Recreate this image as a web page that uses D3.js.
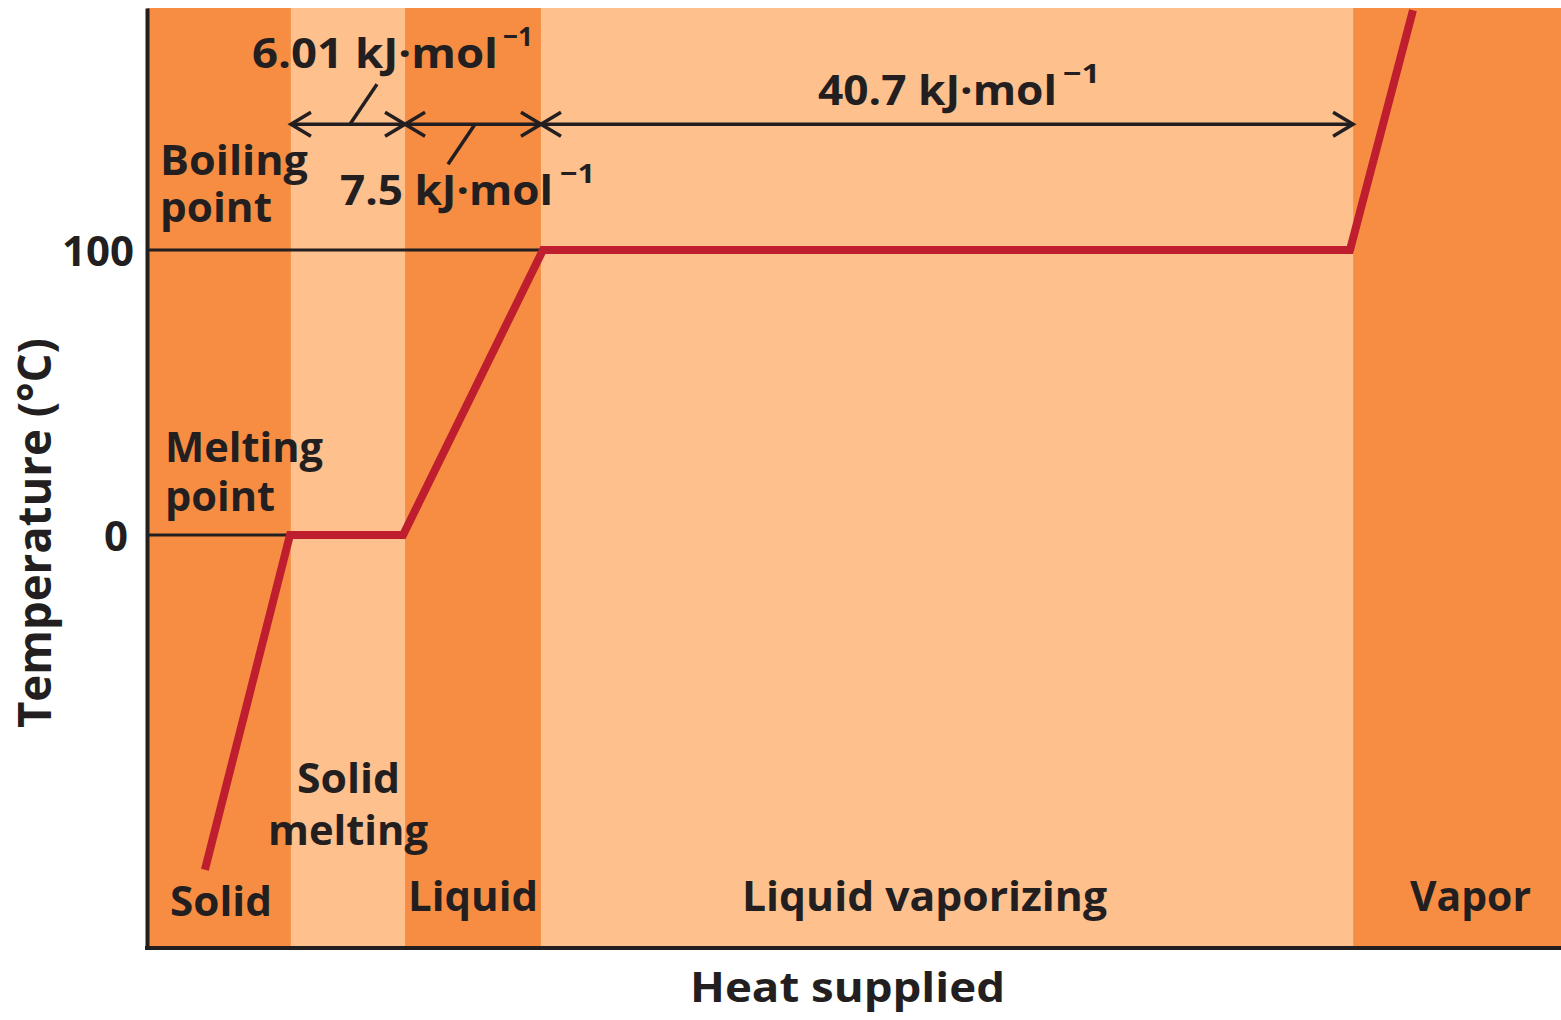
<!DOCTYPE html>
<html>
<head>
<meta charset="utf-8">
<script src="https://cdn.jsdelivr.net/npm/d3@7"></script>
<style>
  html, body { margin: 0; padding: 0; background: #fff; }
  svg text { font-family: "Open Sans", "Noto Sans", sans-serif; font-weight: 700; fill: #231f20; }
</style>
</head>
<body>
<div id="graph"></div>
<script>
// phases along the heat axis (edges are heat supplied, kJ·mol-1 scale)
const phaseNames = ["Solid", "Solid melting", "Liquid", "Liquid vaporizing", "Vapor"];
const phaseEdges = [0, 7.38, 13.23, 20.2, 61.84, 72.5];

// heating curve
const heatValues = [2.97, 7.33, 13.13, 20.3, 61.68, 64.91];
const tempValues = [-117.5, 0, 0, 100, 100, 184.2];

// y axis
const tempTicks = [0, 100];
const tickLabels = ["0", "100"];
const tempNames = ["Melting point", "Boiling point"];

// latent heats, one per phase change span
const latentLabels = ["6.01 kJ·mol", "7.5 kJ·mol", "40.7 kJ·mol"];
const latentSpans = [[1, 2], [2, 3], [3, 4]];
const arrowTemp = 144.2;

let dark = "#f68d42", light = "#fec08d", ink = "#231f20", red = "#be1e2d";

let width = 1561, height = 1020;
let margin = {top: 8, right: 0, bottom: 72, left: 147};

let x = d3.scaleLinear().domain([0, 72.5]).range([margin.left, width - margin.right]);
let y = d3.scaleLinear().domain([-145, 185]).range([height - margin.bottom, margin.top]);

let svg = d3.select("div#graph").append("svg")
  .attr("width", width)
  .attr("height", height);

// phase bands
svg.append("g").selectAll("rect")
  .data(phaseNames)
  .join("rect")
  .attr("x", (d, i) => x(phaseEdges[i]))
  .attr("width", (d, i) => x(phaseEdges[i + 1]) - x(phaseEdges[i]))
  .attr("y", y(185))
  .attr("height", y(-145) - y(185))
  .attr("fill", (d, i) => i % 2 ? light : dark);

let points = heatValues.map((h, i) => ({heat: h, temp: tempValues[i]}));

// melting / boiling reference lines, running to the curve
svg.append("g").selectAll("line")
  .data(tempTicks)
  .join("line")
  .attr("x1", x(0))
  .attr("x2", t => x(points.find(p => p.temp >= t && p.temp === t).heat) + (t === 100 ? 0 : -1))
  .attr("y1", t => y(t))
  .attr("y2", t => y(t))
  .attr("stroke", ink)
  .attr("stroke-width", 3);

let line = d3.line()
  .x(d => x(d.heat))
  .y(d => y(d.temp));

svg.append("path")
  .datum(points)
  .attr("d", line)
  .attr("fill", "none")
  .attr("stroke", red)
  .attr("stroke-width", 8)
  .attr("stroke-linejoin", "miter");

// axes
let yAxis = d3.axisLeft(y).tickValues(tempTicks).tickFormat((d, i) => tickLabels[i])
  .tickSize(0).tickSizeOuter(0).tickPadding(13);
let xAxis = d3.axisBottom(x).tickValues([]).tickSizeOuter(0);

let gy = svg.append("g")
  .attr("transform", "translate(" + margin.left + ",0)")
  .call(yAxis);
gy.select(".domain").attr("stroke", ink).attr("stroke-width", 4);
gy.selectAll(".tick text")
  .attr("font-size", 42)
  .attr("font-family", null)
  .attr("fill", null)
  .attr("dy", "0.36em")
  .attr("dx", d => d === 0 ? -6 : 0);

let gx = svg.append("g")
  .attr("transform", "translate(0," + y(-145) + ")")
  .call(xAxis);
gx.select(".domain").attr("stroke", ink).attr("stroke-width", 4)
  .attr("d", "M" + (margin.left - 2) + ",0H" + width);

svg.append("text")
  .attr("transform", "translate(51," + 533 + ") rotate(-90)")
  .attr("text-anchor", "middle")
  .attr("font-size", 47)
  .attr("textLength", 390)
  .attr("lengthAdjust", "spacingAndGlyphs")
  .text("Temperature (°C)");

svg.append("text")
  .attr("x", 690)
  .attr("y", 1002)
  .attr("font-size", 42)
  .attr("textLength", 315)
  .attr("lengthAdjust", "spacingAndGlyphs")
  .text("Heat supplied");

// labels drawn as lines of text: [text, left x, baseline, width]
function label(lines) {
  lines.forEach(function(l) {
    svg.append("text")
      .attr("x", l[1])
      .attr("y", l[2])
      .attr("font-size", 42)
      .attr("textLength", l[3])
      .attr("lengthAdjust", "spacingAndGlyphs")
      .text(l[0]);
  });
}

// phase names at the bottom of each band
let phaseLayout = [
  [[phaseNames[0], 170, 916, 102]],
  [["Solid", 297, 793, 103], ["melting", 268, 845, 160]],
  [[phaseNames[2], 408, 911, 130]],
  [[phaseNames[3], 742, 911, 365]],
  [[phaseNames[4], 1410, 911, 121]]
];
phaseLayout.forEach(label);

// melting and boiling point names above their lines
let tempLayout = [
  [["Melting", 165, 462, 158], ["point", 165, 511, 110]],
  [["Boiling", 160, 175, 148], ["point", 160, 222, 112]]
];
tempNames.forEach(function(n, i) {
  let words = n.split(" ");
  label(tempLayout[i].map((l, j) => [words[j], l[1], l[2], l[3]]));
});

// latent heat arrows
let ay = y(arrowTemp);
let head = 20, spread = 12;
let arrows = svg.append("g").attr("stroke", ink).attr("stroke-width", 3.5).attr("fill", "none");
latentSpans.forEach(function(s) {
  let x1 = x(phaseEdges[s[0]]), x2 = x(phaseEdges[s[1]]);
  arrows.append("path").attr("d", "M" + x1 + "," + ay + "H" + x2);
  arrows.append("path").attr("d", "M" + (x1 + head) + "," + (ay - spread) + "L" + x1 + "," + ay + "L" + (x1 + head) + "," + (ay + spread));
  arrows.append("path").attr("d", "M" + (x2 - head) + "," + (ay - spread) + "L" + x2 + "," + ay + "L" + (x2 - head) + "," + (ay + spread));
});

// leader lines from the two short arrows to their labels
let mid0 = (x(phaseEdges[1]) + x(phaseEdges[2])) / 2;
let mid1 = (x(phaseEdges[2]) + x(phaseEdges[3])) / 2;
arrows.append("path").attr("d", "M" + (mid0 + 2) + "," + ay + "L" + (mid0 + 29) + "," + (ay - 40));
arrows.append("path").attr("d", "M" + (mid1 + 2) + "," + ay + "L" + (mid1 - 25) + "," + (ay + 40));

let latentLayout = [
  {x: 252, y: 68, w: 246, sx: 503, sw: 30},
  {x: 340, y: 205, w: 213, sx: 560, sw: 35},
  {x: 818, y: 105, w: 239, sx: 1063, sw: 37}
];
latentLabels.forEach(function(t, i) {
  let l = latentLayout[i];
  svg.append("text")
    .attr("x", l.x)
    .attr("y", l.y)
    .attr("font-size", 41)
    .attr("textLength", l.w)
    .attr("lengthAdjust", "spacingAndGlyphs")
    .text(t);
  svg.append("text")
    .attr("x", l.sx)
    .attr("y", l.y - 22)
    .attr("font-size", 27)
    .attr("textLength", l.sw)
    .attr("lengthAdjust", "spacingAndGlyphs")
    .text("\u22121");
});
</script>
</body>
</html>
